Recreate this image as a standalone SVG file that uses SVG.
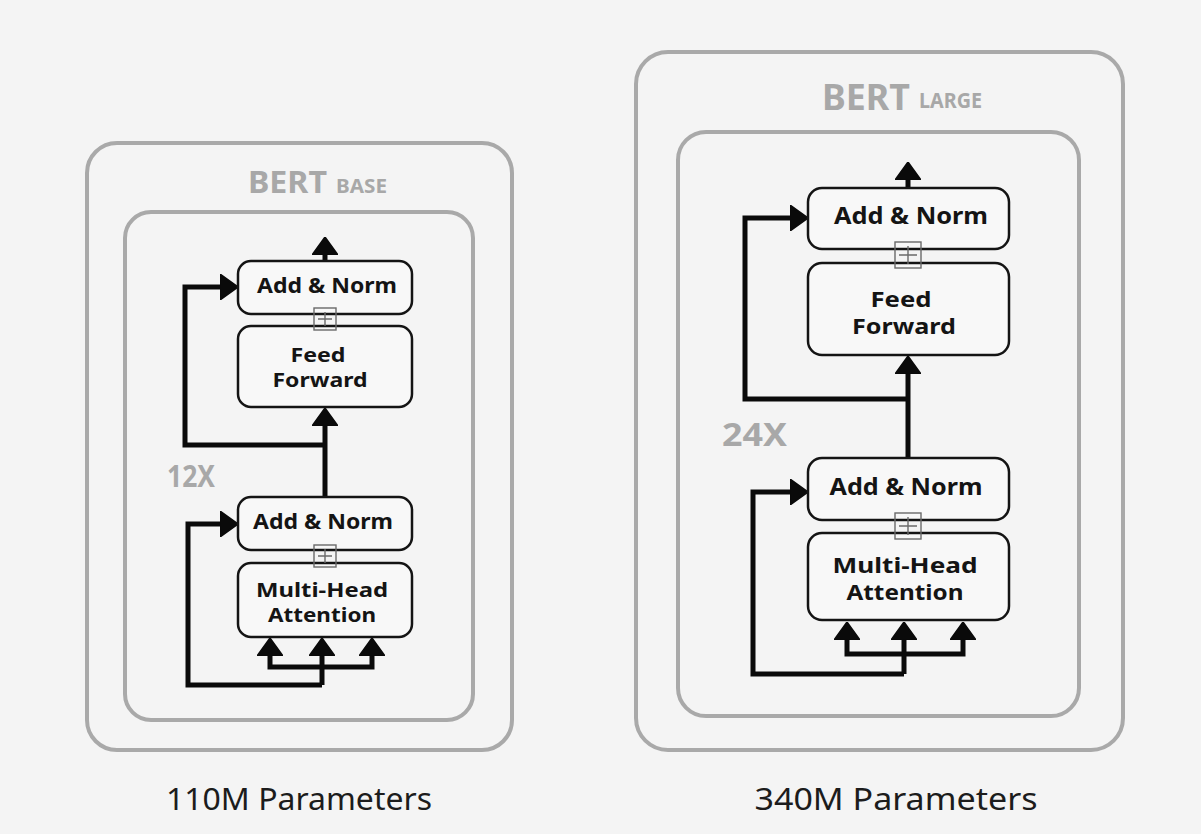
<svg xmlns="http://www.w3.org/2000/svg" width="1201" height="834" viewBox="0 0 1201 834">
<defs>
<style>
.outer{fill:none;stroke:#a9a9a9;stroke-width:4}
.node{fill:#f8f8f8;stroke:#141414;stroke-width:2.5}
.lbl{font-family:"Noto Sans","Liberation Sans",sans-serif;font-weight:700;fill:#141414;text-anchor:middle}
.gray{font-family:"Noto Sans","Liberation Sans",sans-serif;font-weight:700;fill:#a8a8a8}
.param{font-family:"Noto Sans","Liberation Sans",sans-serif;font-weight:400;fill:#1c1c1c;text-anchor:middle}
.plus{fill:none;stroke:#6a6a6a;stroke-width:1.4}
.conn{fill:none;stroke:#0a0a0a;stroke-width:5;stroke-linejoin:miter}
</style>
<marker id="ah" viewBox="0 0 18 26" refX="5" refY="13" markerWidth="18" markerHeight="26" markerUnits="userSpaceOnUse" orient="auto">
<path d="M0,0 L18,13 L0,26 z" fill="#0a0a0a" stroke="#0a0a0a" stroke-width="1.5" stroke-linejoin="round"/>
</marker>
</defs>
<rect width="1201" height="834" fill="#f4f4f4"/>

<g id="bert-base-frame">
<rect class="outer" x="87" y="143" width="425" height="607" rx="30"/>
<rect class="outer" x="125" y="212" width="348" height="508" rx="26"/>
<text class="gray" x="248" y="193" font-size="31" textLength="79" lengthAdjust="spacingAndGlyphs">BERT</text>
<text class="gray" x="336" y="193" font-size="19" textLength="51" lengthAdjust="spacingAndGlyphs">BASE</text>
<text class="gray" x="167" y="487" font-size="30" textLength="48" lengthAdjust="spacingAndGlyphs">12X</text>
</g>
<g id="bert-large-frame">
<rect class="outer" x="636" y="52" width="487" height="698" rx="32"/>
<rect class="outer" x="678" y="132" width="401" height="584" rx="28"/>
<text class="gray" x="822" y="110" font-size="35" textLength="88" lengthAdjust="spacingAndGlyphs">BERT</text>
<text class="gray" x="919" y="108" font-size="21" textLength="63" lengthAdjust="spacingAndGlyphs">LARGE</text>
<text class="gray" x="722" y="446" font-size="33" textLength="65" lengthAdjust="spacingAndGlyphs">24X</text>
</g>

<g id="connectors">
<path class="conn" d="M325,261 V250" marker-end="url(#ah)"/>
<path class="conn" d="M325,497 V421" marker-end="url(#ah)"/>
<path class="conn" d="M325,445 H185 V287 H225" marker-end="url(#ah)"/>
<path class="conn" d="M322,685 H188 V524 H225" marker-end="url(#ah)"/>
<path class="conn" d="M322,685 V651" marker-end="url(#ah)"/>
<path class="conn" d="M322,667 H270 V651" marker-end="url(#ah)"/>
<path class="conn" d="M322,667 H372 V651" marker-end="url(#ah)"/>
<path class="conn" d="M908,188 V175" marker-end="url(#ah)"/>
<path class="conn" d="M908,458 V369" marker-end="url(#ah)"/>
<path class="conn" d="M908,399 H745 V218 H795" marker-end="url(#ah)"/>
<path class="conn" d="M904,674 H753 V492 H795" marker-end="url(#ah)"/>
<path class="conn" d="M904,674 V635" marker-end="url(#ah)"/>
<path class="conn" d="M904,654 H847 V635" marker-end="url(#ah)"/>
<path class="conn" d="M904,654 H963 V635" marker-end="url(#ah)"/>
</g>

<g id="base-addnorm-top">
<rect class="node" x="238" y="261" width="174" height="53" rx="13"/>
<text class="lbl" x="327" y="293" font-size="21" textLength="140" lengthAdjust="spacingAndGlyphs">Add &amp; Norm</text>
</g>
<g id="base-feedforward">
<rect class="node" x="238" y="326" width="174" height="81" rx="13"/>
<text class="lbl" x="318" y="362" font-size="19" textLength="55" lengthAdjust="spacingAndGlyphs">Feed</text>
<text class="lbl" x="320" y="387" font-size="19" textLength="95" lengthAdjust="spacingAndGlyphs">Forward</text>
</g>
<g id="base-plus-top">
<rect class="plus" x="314" y="308" width="22" height="22"/>
<path class="plus" d="M318,319 H332 M325,312 V326"/>
</g>
<g id="base-addnorm-bottom">
<rect class="node" x="238" y="497" width="174" height="53" rx="13"/>
<text class="lbl" x="323" y="529" font-size="21" textLength="140" lengthAdjust="spacingAndGlyphs">Add &amp; Norm</text>
</g>
<g id="base-attention">
<rect class="node" x="238" y="563" width="174" height="74" rx="13"/>
<text class="lbl" x="322" y="597" font-size="19" textLength="132" lengthAdjust="spacingAndGlyphs">Multi-Head</text>
<text class="lbl" x="322" y="622" font-size="19" textLength="108" lengthAdjust="spacingAndGlyphs">Attention</text>
</g>
<g id="base-plus-bottom">
<rect class="plus" x="314" y="545" width="22" height="22"/>
<path class="plus" d="M318,556 H332 M325,549 V563"/>
</g>

<g id="large-addnorm-top">
<rect class="node" x="808" y="188" width="201" height="61" rx="14"/>
<text class="lbl" x="911" y="224" font-size="23" textLength="154" lengthAdjust="spacingAndGlyphs">Add &amp; Norm</text>
</g>
<g id="large-feedforward">
<rect class="node" x="808" y="263" width="201" height="92" rx="14"/>
<text class="lbl" x="901" y="307" font-size="21" textLength="61" lengthAdjust="spacingAndGlyphs">Feed</text>
<text class="lbl" x="904" y="334" font-size="21" textLength="104" lengthAdjust="spacingAndGlyphs">Forward</text>
</g>
<g id="large-plus-top">
<rect class="plus" x="895" y="242" width="26" height="26"/>
<path class="plus" d="M899,255 H917 M908,246 V264"/>
</g>
<g id="large-addnorm-bottom">
<rect class="node" x="808" y="458" width="201" height="62" rx="14"/>
<text class="lbl" x="906" y="495" font-size="23" textLength="153" lengthAdjust="spacingAndGlyphs">Add &amp; Norm</text>
</g>
<g id="large-attention">
<rect class="node" x="808" y="533" width="201" height="87" rx="14"/>
<text class="lbl" x="905" y="573" font-size="21" textLength="145" lengthAdjust="spacingAndGlyphs">Multi-Head</text>
<text class="lbl" x="905" y="600" font-size="21" textLength="117" lengthAdjust="spacingAndGlyphs">Attention</text>
</g>
<g id="large-plus-bottom">
<rect class="plus" x="895" y="513" width="26" height="26"/>
<path class="plus" d="M899,526 H917 M908,517 V535"/>
</g>

<g id="captions">
<text class="param" x="299" y="810" font-size="30" textLength="266" lengthAdjust="spacingAndGlyphs">110M Parameters</text>
<text class="param" x="896" y="810" font-size="30" textLength="283" lengthAdjust="spacingAndGlyphs">340M Parameters</text>
</g>
</svg>
